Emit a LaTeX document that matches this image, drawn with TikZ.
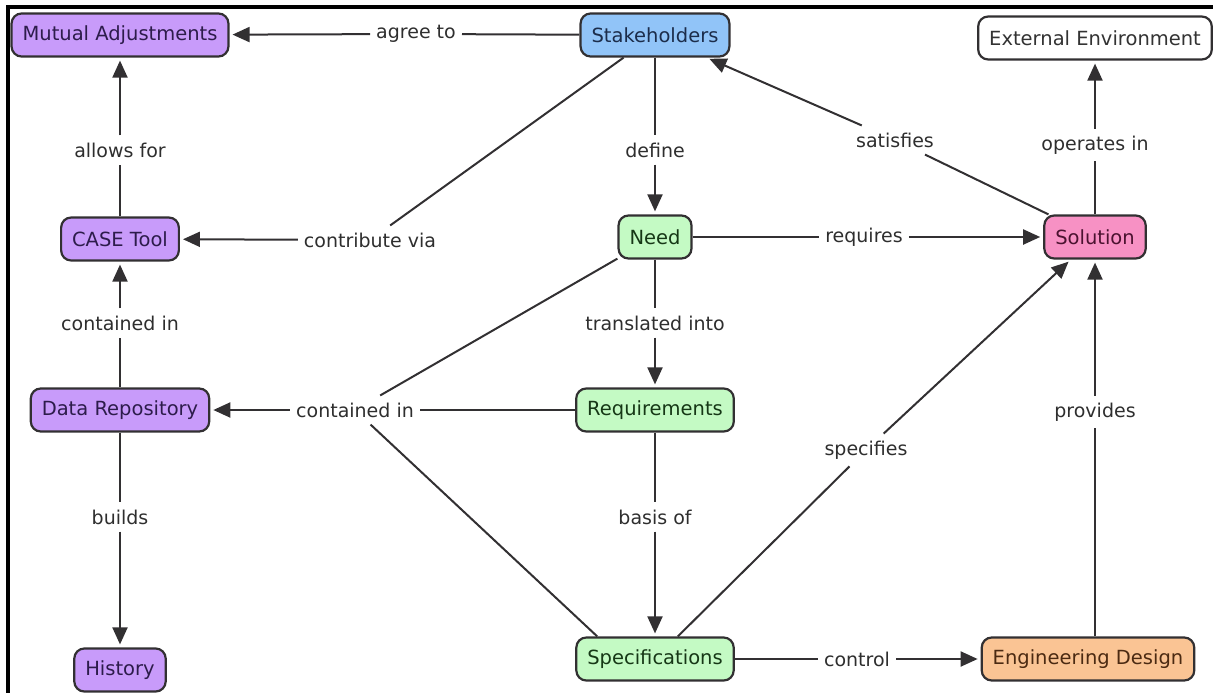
\documentclass[tikz,border=0pt]{standalone}
\usepackage{fontspec}
\setmainfont{DejaVu Sans}
\usetikzlibrary{arrows.meta}
\definecolor{edgegray}{RGB}{50,48,50}
\definecolor{purplefill}{RGB}{200,155,250}
\definecolor{purpletext}{RGB}{45,28,75}
\definecolor{bluefill}{RGB}{145,196,248}
\definecolor{bluetext}{RGB}{28,45,75}
\definecolor{greenfill}{RGB}{196,250,196}
\definecolor{greentext}{RGB}{22,55,22}
\definecolor{pinkfill}{RGB}{247,145,196}
\definecolor{pinktext}{RGB}{75,18,48}
\definecolor{orangefill}{RGB}{250,196,148}
\definecolor{orangetext}{RGB}{75,42,18}
\tikzset{
  concept/.style={draw=edgegray, line width=2.2pt, rounded corners=10pt,
    inner xsep=11pt, minimum height=43pt,
    font=\fontsize{19.5}{23}\selectfont},
  purplebox/.style={concept, fill=purplefill, text=purpletext},
  bluebox/.style={concept, fill=bluefill, text=bluetext},
  greenbox/.style={concept, fill=greenfill, text=greentext},
  pinkbox/.style={concept, fill=pinkfill, text=pinktext},
  orangebox/.style={concept, fill=orangefill, text=orangetext},
  whitebox/.style={concept, fill=white, text=black!80},
  phrase/.style={inner xsep=6pt, inner ysep=7pt, text=black!82,
    font=\fontsize{19}{23}\selectfont},
  link/.style={draw=edgegray, line width=2pt},
  arr/.style={link, -{Triangle[length=17pt,width=15pt]}, shorten >=3pt},
}
\begin{document}
\begin{tikzpicture}[x=1pt,y=-1pt]
\useasboundingbox (0,0) rectangle (1213,693);
% frame
\draw[line width=3.5pt, black] (8,693) -- (8,7) -- (1213,7);

% concepts
\node[purplebox] (ma)   at (120,35)  {Mutual Adjustments};
\node[bluebox]   (stk)  at (655,35)  {Stakeholders};
\node[whitebox]  (ext)  at (1095,38) {External Environment};
\node[purplebox] (case) at (120,239) {CASE Tool};
\node[greenbox]  (need) at (655,237) {Need};
\node[pinkbox]   (sol)  at (1095,237) {Solution};
\node[purplebox] (data) at (120,410) {Data Repository};
\node[greenbox]  (req)  at (655,410) {Requirements};
\node[purplebox] (hist) at (120,670) {History};
\node[greenbox]  (spec) at (655,659) {Specifications};
\node[orangebox] (eng)  at (1088,659) {Engineering Design};

% linking phrases
\node[phrase] (agree)  at (416,34)  {agree to};
\node[phrase] (allows) at (120,150) {allows for};
\node[phrase] (define) at (655,150) {define};
\node[phrase] (satis)  at (895,140) {satisfies};
\node[phrase] (oper)   at (1095,145) {operates in};
\node[phrase] (contr)  at (370,240) {contribute via};
\node[phrase] (reqs)   at (864,237) {requires};
\node[phrase] (trans)  at (655,323) {translated into};
\node[phrase] (contA)  at (355,410) {contained in};
\node[phrase] (contB)  at (120,323) {contained in};
\node[phrase] (builds) at (120,517) {builds};
\node[phrase] (basis)  at (655,517) {basis of};
\node[phrase] (specs)  at (866,450) {specifies};
\node[phrase] (prov)   at (1095,412) {provides};
\node[phrase] (ctrl)   at (857,659) {control};

% connectors
\draw[link] (stk) -- (agree);   \draw[arr] (agree) -- (ma);
\draw[link] (case) -- (allows); \draw[arr] (allows) -- (ma);
\draw[link] (stk) -- (define);  \draw[arr] (define) -- (need);
\draw[link] (sol) -- (satis);   \draw[arr] (satis) -- (stk);
\draw[link] (sol) -- (oper);    \draw[arr] (oper) -- (ext);
\draw[link] (stk) -- (contr);   \draw[arr] (contr) -- (case);
\draw[link] (need) -- (reqs);   \draw[arr] (reqs) -- (sol);
\draw[link] (need) -- (trans);  \draw[arr] (trans) -- (req);
\draw[link] (need) -- (contA);
\draw[link] (req) -- (contA);
\draw[link] ([xshift=22pt]spec.north west) -- (contA);
\draw[arr] (contA) -- (data);
\draw[link] (data) -- (contB);  \draw[arr] (contB) -- (case);
\draw[link] (data) -- (builds); \draw[arr] (builds) -- (hist);
\draw[link] (req) -- (basis);   \draw[arr] (basis) -- (spec);
\draw[link] (spec) -- (specs);  \draw[arr] (specs) -- (sol);
\draw[link] (eng.north -| prov) -- (prov); \draw[arr] (prov) -- (sol);
\draw[link] (spec) -- (ctrl);   \draw[arr] (ctrl) -- (eng);
\end{tikzpicture}
\end{document}
